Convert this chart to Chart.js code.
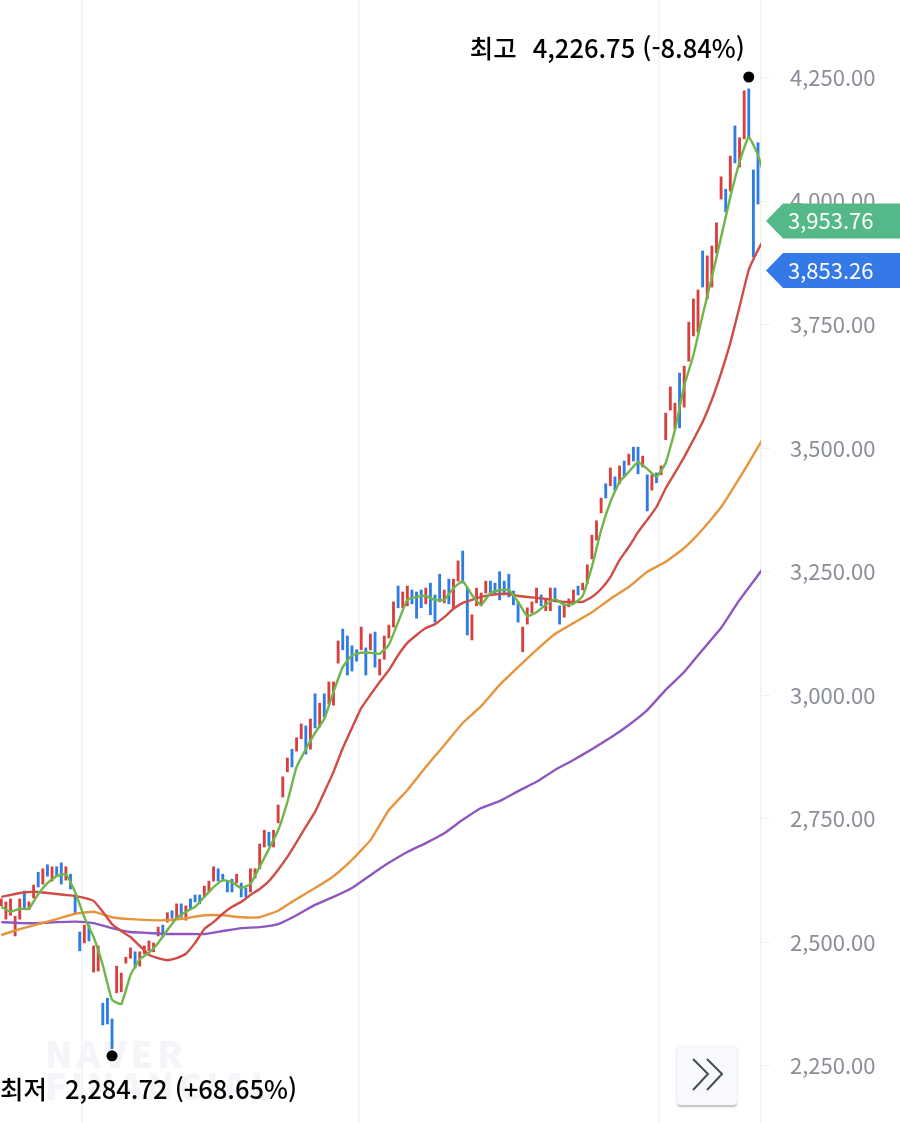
<!DOCTYPE html>
<html lang="ko">
<head>
<meta charset="utf-8">
<title>chart</title>
<script src="https://cdn.jsdelivr.net/npm/chart.js@4"></script>
<style>
  html, body { margin: 0; padding: 0; background: #fff; }
  #wrap { position: relative; width: 900px; height: 1123px; overflow: hidden; }
  #next-btn {
    position: absolute; left: 677px; top: 1045px; width: 60px; height: 60px;
    background: #f8f9fc; border-radius: 4px; box-shadow: 0 2px 2px rgba(0,0,0,.25);
  }
</style>
</head>
<body>
<div id="wrap">
  <canvas id="price-chart" width="900" height="1123"></canvas>
  <div id="next-btn">
    <svg width="60" height="60" fill="none" stroke="#474a50" stroke-width="2">
      <polyline points="16,14 31,29 16,45"/>
      <polyline points="30,14 45,29 30,45"/>
    </svg>
  </div>
</div>
<script>
// Data
var barHighs = [
  2588, 2582, 2588, 2553, 2588, 2604, 2582, 2616, 2642, 2649,
  2657, 2653, 2653, 2661, 2653, 2638, 2596, 2521, 2535, 2535,
  2493, 2493, 2377, 2387, 2345, 2452, 2438, 2470, 2489, 2481,
  2481, 2493, 2503, 2499, 2531, 2535, 2560, 2564, 2578, 2578,
  2574, 2588, 2596, 2596, 2614, 2624, 2653, 2649, 2638, 2624,
  2628, 2638, 2620, 2610, 2649, 2649, 2699, 2727, 2723, 2727,
  2778, 2835, 2873, 2891, 2914, 2942, 2938, 2952, 3003, 2984,
  3003, 3027, 3027, 3110, 3134, 3120, 3100, 3092, 3138, 3096,
  3124, 3128, 3073, 3120, 3142, 3189, 3221, 3209, 3221, 3213,
  3209, 3213, 3217, 3227, 3203, 3245, 3213, 3235, 3235, 3272,
  3292, 3217, 3163, 3217, 3207, 3231, 3231, 3227, 3250, 3231,
  3245, 3211, 3189, 3138, 3177, 3189, 3217, 3203, 3195, 3217,
  3217, 3181, 3185, 3195, 3213, 3221, 3227, 3264, 3324, 3353,
  3399, 3428, 3460, 3442, 3464, 3474, 3488, 3502, 3502, 3484,
  3446, 3446, 3450, 3464, 3571, 3624, 3591, 3652, 3666, 3755,
  3802, 3820, 3899, 3889, 3909, 3956, 4049, 4024, 4091, 4152,
  4128, 4223, 4227, 4063, 4118
];
var barLows = [
  2574, 2547, 2555, 2513, 2547, 2570, 2566, 2590, 2612, 2618,
  2634, 2624, 2634, 2618, 2626, 2608, 2560, 2483, 2499, 2503,
  2440, 2442, 2333, 2335, 2285, 2398, 2400, 2458, 2468, 2448,
  2452, 2477, 2483, 2481, 2513, 2511, 2541, 2549, 2549, 2551,
  2545, 2568, 2582, 2578, 2592, 2602, 2624, 2624, 2624, 2602,
  2602, 2620, 2592, 2592, 2602, 2630, 2649, 2693, 2695, 2693,
  2742, 2794, 2845, 2855, 2887, 2912, 2881, 2891, 2934, 2936,
  2956, 2982, 2980, 3065, 3092, 3041, 3049, 3069, 3092, 3041,
  3092, 3057, 3041, 3073, 3116, 3138, 3177, 3177, 3181, 3185,
  3156, 3177, 3185, 3163, 3148, 3189, 3187, 3185, 3177, 3231,
  3227, 3122, 3112, 3181, 3181, 3207, 3203, 3203, 3193, 3203,
  3199, 3183, 3148, 3088, 3144, 3167, 3187, 3181, 3171, 3171,
  3189, 3144, 3158, 3179, 3189, 3203, 3213, 3227, 3276, 3314,
  3369, 3399, 3424, 3415, 3428, 3442, 3466, 3474, 3448, 3462,
  3373, 3415, 3430, 3446, 3517, 3577, 3539, 3541, 3583, 3676,
  3727, 3735, 3826, 3802, 3826, 3895, 4004, 3978, 4020, 4077,
  4069, 4126, 4126, 3887, 3994
];
// 1 = up day (red), 0 = down day (blue)
var barUps = [
  1, 1, 1, 1, 1, 0, 1, 1, 0, 1,
  0, 1, 0, 0, 1, 0, 0, 0, 1, 0,
  1, 1, 0, 0, 0, 1, 1, 1, 1, 0,
  1, 1, 1, 1, 1, 0, 1, 0, 1, 0,
  1, 0, 0, 0, 1, 1, 1, 0, 0, 0,
  0, 1, 0, 0, 1, 1, 1, 1, 0, 1,
  1, 1, 1, 0, 1, 1, 0, 1, 0, 1,
  0, 1, 1, 1, 0, 0, 0, 0, 1, 0,
  1, 0, 1, 1, 1, 1, 0, 1, 1, 0,
  0, 0, 1, 0, 0, 0, 1, 0, 1, 1,
  0, 0, 1, 1, 1, 1, 0, 0, 0, 0,
  0, 0, 0, 1, 1, 1, 1, 0, 1, 1,
  0, 0, 1, 1, 1, 0, 1, 1, 1, 1,
  1, 0, 1, 0, 1, 0, 1, 0, 0, 1,
  0, 1, 0, 1, 1, 1, 1, 0, 1, 1,
  1, 1, 0, 1, 1, 1, 1, 0, 1, 0,
  1, 1, 0, 0, 0
];
// moving averages, read every 2nd bar
var ma5 = [
  2572, 2562, 2568, 2568, 2598, 2620, 2634, 2638, 2602, 2551,
  2511, 2454, 2384, 2375, 2434, 2466, 2479, 2499, 2525, 2549,
  2562, 2572, 2592, 2612, 2626, 2622, 2610, 2618, 2653, 2689,
  2727, 2784, 2855, 2891, 2924, 2952, 3007, 3057, 3081, 3086,
  3086, 3084, 3102, 3148, 3193, 3199, 3201, 3193, 3193, 3217,
  3231, 3203, 3183, 3207, 3213, 3213, 3189, 3160, 3168, 3183,
  3195, 3183, 3185, 3201, 3260, 3334, 3391, 3432, 3452, 3472,
  3458, 3442, 3470, 3537, 3626, 3688, 3769, 3846, 3927, 4008,
  4079, 4130, 4093, 4032
];
var ma20 = [
  2592, 2596, 2600, 2602, 2602, 2600, 2598, 2596, 2594, 2590,
  2584, 2562, 2537, 2523, 2511, 2493, 2475, 2468, 2464, 2468,
  2477, 2499, 2527, 2541, 2558, 2572, 2582, 2596, 2608, 2624,
  2647, 2673, 2703, 2734, 2764, 2804, 2845, 2893, 2934, 2974,
  3001, 3027, 3051, 3081, 3106, 3122, 3136, 3144, 3158, 3175,
  3187, 3193, 3199, 3203, 3205, 3205, 3201, 3199, 3197, 3195,
  3191, 3189, 3189, 3189, 3199, 3215, 3239, 3274, 3300, 3330,
  3355, 3381, 3419, 3450, 3482, 3517, 3553, 3598, 3652, 3713,
  3786, 3861, 3901, 3935
];
// read every 4th bar
var ma60 = [
  2515, 2527, 2537, 2547, 2558, 2562, 2551, 2547, 2545, 2545,
  2549, 2555, 2555, 2551, 2551, 2564, 2588, 2610, 2634, 2667,
  2707, 2768, 2808, 2855, 2899, 2944, 2978, 3021, 3057, 3092,
  3124, 3146, 3168, 3195, 3219, 3250, 3270, 3298, 3336, 3381,
  3440, 3502, 3567
];
var ma120 = [
  2541, 2539, 2539, 2541, 2542, 2539, 2529, 2521, 2519, 2517,
  2517, 2517, 2523, 2529, 2531, 2537, 2555, 2576, 2592, 2610,
  2636, 2661, 2683, 2701, 2721, 2748, 2772, 2786, 2806, 2825,
  2849, 2869, 2891, 2914, 2940, 2970, 3011, 3047, 3092, 3136,
  3193, 3243, 3294
];
var priceTicks = [2250, 2500, 2750, 3000, 3250, 3500, 3750, 4000, 4250];
var monthBreaks = [17.5, 77.5, 142.5];

var highIndex = 162;
var highValue = 4226.75;
var highLabel = "4,226.75 (-8.84%)";
var lowIndex = 24;
var lowValue = 2284.72;
var lowLabel = "2,284.72 (+68.65%)";
var priceTags = [
  { value: 3953.76, text: "3,953.76", color: "#55b888" },
  { value: 3853.26, text: "3,853.26", color: "#3578e8" },
];

// Helpers
var labelFont = '"Noto Sans CJK KR", "Noto Sans", sans-serif';
var RED = "#d8403f";
var BLUE = "#2f7ce4";

function everyNth(values, step) {
  return values.map(function (v, i) {
    return { x: i * step, y: v };
  });
}

function lineDataset(name, values, step, color, order) {
  return {
    type: "line",
    label: name,
    data: everyNth(values, step),
    borderColor: color,
    borderWidth: 2.4,
    pointRadius: 0,
    tension: 0.12,
    order: order,
  };
}

var barData = barHighs.map(function (high, i) {
  return { x: i, y: [barLows[i], high] };
});
var barColors = barUps.map(function (up) {
  return up ? RED : BLUE;
});

// Overlay: watermark, hi/lo markers, price tags
var overlay = {
  id: "overlay",
  beforeDatasetsDraw: function (chart) {
    var c = chart.ctx;
    c.save();
    c.fillStyle = "#f4f5f8";
    c.font = "800 36px " + labelFont;
    c.letterSpacing = "4px";
    c.textAlign = "left";
    c.textBaseline = "alphabetic";
    c.fillText("NAVER", 45, 1068);
    c.fillText("FINANCIAL", 45, 1100);
    c.restore();
  },
  afterDatasetsDraw: function (chart) {
    var c = chart.ctx;
    var xs = chart.scales.x;
    var ys = chart.scales.y;
    var hx = xs.getPixelForValue(highIndex);
    var hy = ys.getPixelForValue(highValue) - 12;
    var lx = xs.getPixelForValue(lowIndex);
    var ly = ys.getPixelForValue(lowValue) + 7;

    c.save();
    c.fillStyle = "#000";
    c.beginPath();
    c.arc(hx, hy, 5.5, 0, Math.PI * 2);
    c.fill();
    c.beginPath();
    c.arc(lx, ly, 5.5, 0, Math.PI * 2);
    c.fill();

    c.font = "500 25.5px " + labelFont;
    c.textBaseline = "middle";
    c.textAlign = "right";
    c.fillText(highLabel, hx - 4, hy - 29);
    c.textAlign = "left";
    c.fillText("최고", hx - 279, hy - 29);
    c.fillText("최저", lx - 112, ly + 34);
    c.fillText(lowLabel, lx - 47, ly + 34);
    c.restore();
  },
  afterDraw: function (chart) {
    var c = chart.ctx;
    var ys = chart.scales.y;
    var left = chart.chartArea.right + 5;
    priceTags.forEach(function (tag) {
      var y = ys.getPixelForValue(tag.value) - 3;
      c.save();
      c.fillStyle = tag.color;
      c.beginPath();
      c.moveTo(left, y);
      c.lineTo(left + 17, y - 17.5);
      c.lineTo(chart.width, y - 17.5);
      c.lineTo(chart.width, y + 17.5);
      c.lineTo(left + 17, y + 17.5);
      c.closePath();
      c.fill();
      c.fillStyle = "#fff";
      c.font = "22px " + labelFont;
      c.textBaseline = "middle";
      c.textAlign = "left";
      c.fillText(tag.text, left + 22, y);
      c.restore();
    });
  },
};

// Chart
var ctx = document.getElementById("price-chart").getContext("2d");
var chart = new Chart(ctx, {
  type: "bar",
  data: {
    datasets: [
      lineDataset("ma5", ma5, 2, "#6fb649", 1),
      lineDataset("ma20", ma20, 2, "#cf4c47", 2),
      lineDataset("ma60", ma60, 4, "#e6953c", 3),
      lineDataset("ma120", ma120, 4, "#8e56bf", 4),
      {
        type: "bar",
        label: "price",
        data: barData,
        backgroundColor: barColors,
        barThickness: 2.2,
        order: 5,
      },
    ],
  },
  options: {
    responsive: false,
    animation: false,
    layout: { padding: 0 },
    plugins: { legend: { display: false }, tooltip: { enabled: false } },
    scales: {
      x: {
        type: "linear",
        min: -0.28,
        max: 164.65,
        offset: false,
        grid: { offset: false, color: "#f1f2f5", lineWidth: 1.5, drawTicks: false },
        border: { display: false },
        ticks: { display: false },
        afterBuildTicks: function (axis) {
          axis.ticks = monthBreaks.map(function (v) {
            return { value: v };
          });
        },
        afterFit: function (axis) {
          axis.height = 0;
        },
      },
      y: {
        position: "right",
        min: 2134.6,
        max: 4406.8,
        grid: { drawOnChartArea: false, tickLength: 9, tickColor: "#eeeff2" },
        border: { color: "#f1f2f5", width: 1.5 },
        ticks: {
          padding: 20,
          color: "#8a8e97",
          font: { family: labelFont, size: 22 },
          includeBounds: false,
          callback: function (v) {
            return v.toLocaleString("en-US", { minimumFractionDigits: 2 });
          },
        },
        afterBuildTicks: function (axis) {
          axis.ticks = priceTicks.map(function (v) {
            return { value: v };
          });
        },
        afterFit: function (axis) {
          axis.width = 139;
          axis.paddingTop = 0;
          axis.paddingBottom = 0;
        },
      },
    },
  },
  plugins: [overlay],
});
</script>
</body>
</html>
